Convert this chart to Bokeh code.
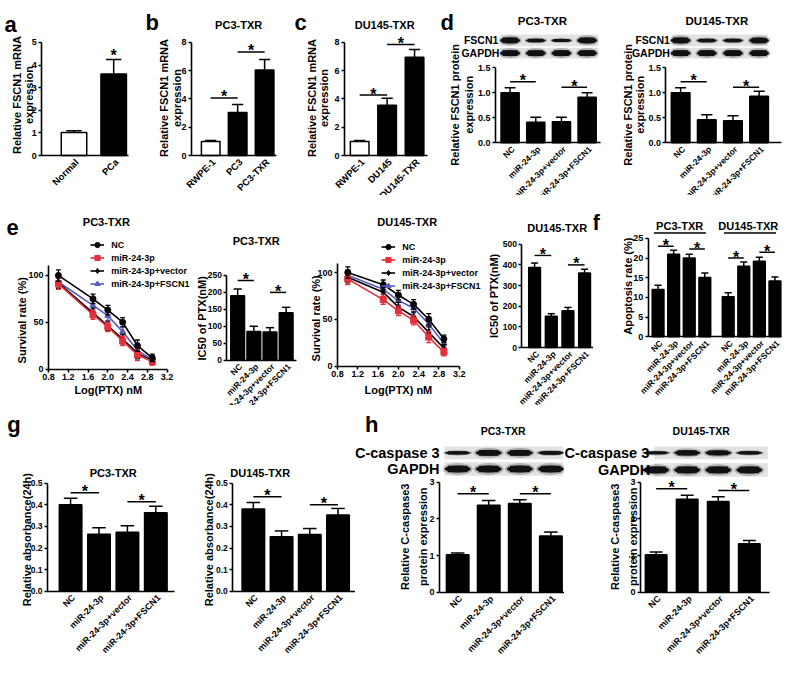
from math import pi
from bokeh.plotting import figure
from bokeh.models import (Range1d, FixedTicker, Label, Legend, LegendItem, ColumnDataSource,
                          NumeralTickFormatter)
from bokeh.layouts import row, column
from bokeh.embed import file_html
from bokeh.resources import INLINE
from bokeh.core.properties import value

# ------------------------------------------------------------------ data
a_cats = ["Normal", "PCa"]
a_vals = [1.02, 3.6]
a_err = [0.08, 0.65]

b_cats = ["RWPE-1", "PC3", "PC3-TXR"]
b_vals = [1.0, 3.05, 6.05]
b_err = [0.07, 0.55, 0.75]
b_sig = [4.07, 7.33]

c_cats = ["RWPE-1", "DU145", "DU145-TXR"]
c_vals = [1.0, 3.55, 6.95]
c_err = [0.07, 0.5, 0.55]
c_sig = [4.28, 7.85]

groups = ["NC", "miR-24-3p", "miR-24-3p+vector", "miR-24-3p+FSCN1"]

d_pc3_vals = [1.0, 0.41, 0.42, 0.91]
d_pc3_err = [0.1, 0.1, 0.09, 0.09]
d_pc3_sig = [1.22, 1.11]
d_du_vals = [1.0, 0.46, 0.44, 0.93]
d_du_err = [0.1, 0.1, 0.1, 0.1]
d_du_sig = [1.22, 1.11]
blot_fscn1_pc3 = [1.0, 0.6, 0.55, 1.0]
blot_gapdh_pc3 = [1.0, 1.0, 1.0, 1.0]
blot_fscn1_du = [1.0, 0.6, 0.6, 0.95]
blot_gapdh_du = [1.0, 1.0, 1.0, 1.0]

log_ptx = [1.0, 1.7, 2.0, 2.3, 2.6, 2.9]
x_ticks_log = [0.8, 1.2, 1.6, 2.0, 2.4, 2.8, 3.2]
surv_pc3_nc = [100, 75, 63, 50, 25, 12]
surv_pc3_mir = [91, 58, 45, 30, 15, 8]
surv_pc3_vec = [92, 60, 46, 32, 17, 9]
surv_pc3_fscn1 = [93, 68, 57, 40, 20, 10]
surv_du_nc = [100, 87, 76, 66, 50, 29]
surv_du_mir = [93, 71, 59, 49, 31, 15]
surv_du_vec = [95, 79, 63, 53, 36, 19]
surv_du_fscn1 = [97, 82, 70, 62, 45, 24]
surv_err = [6, 5, 5, 5, 6, 4]

ic50_pc3 = [190, 85, 83, 140]
ic50_pc3_err = [20, 15, 13, 16]
ic50_pc3_sig = [235, 200]
ic50_du = [387, 152, 178, 361]
ic50_du_err = [22, 12, 16, 18]
ic50_du_sig = [446, 400]

apop_pc3 = [12.0, 21.0, 20.0, 15.1]
apop_pc3_err = [1.1, 1.0, 1.0, 1.1]
apop_du = [10.2, 17.9, 19.2, 14.2]
apop_du_err = [1.0, 1.1, 1.0, 1.0]
apop_sig = [23.0, 22.3, 20.0, 21.5]

abs_pc3 = [0.40, 0.264, 0.273, 0.363]
abs_pc3_err = [0.03, 0.03, 0.03, 0.03]
abs_pc3_sig = [0.455, 0.414]
abs_du = [0.38, 0.252, 0.263, 0.353]
abs_du_err = [0.03, 0.027, 0.027, 0.03]
abs_du_sig = [0.437, 0.40]

casp_pc3 = [1.02, 2.37, 2.42, 1.53]
casp_pc3_err = [0.05, 0.13, 0.1, 0.11]
casp_pc3_sig = [2.68, 2.68]
casp_du = [1.02, 2.53, 2.47, 1.32]
casp_du_err = [0.08, 0.11, 0.13, 0.09]
casp_du_sig = [2.82, 2.77]
blot_casp_pc3 = [0.55, 1.0, 1.0, 0.6]
blot_casp_du = [0.5, 0.9, 0.85, 0.55]
blot_gapdh_h = [1.0, 1.0, 1.0, 1.0]

# ------------------------------------------------------------------ helpers
FONT = "Liberation Sans"
KX = 784 / 800
KY = 661 / 678
RED = "#e3303c"
BLUE = "#5a5abf"


def SX(v):
    return int(round(KX * v))


def SY(v):
    return int(round(KY * v))


def xr_from(L, R, c0, s):
    return ((L - c0) / s, (R - c0) / s)


def yr_from(B, T, tick_px, tick_val):
    ppu = (B - tick_px) / tick_val
    return (0, (B - T) / ppu)


class Pan:
    """A figure whose frame fills its whole canvas; axes sit at fixed locations."""

    def __init__(self, box, frame, xr, yr, ytop):
        fx0, fx1, fy0, fy1 = box
        L, R, T, B = frame
        self.L, self.R, self.T, self.B = L, R, T, B
        self.xr, self.yr = xr, yr
        X0, X1, Y0, Y1 = SX(fx0), SX(fx1), SY(fy0), SY(fy1)
        self.X0, self.Y1 = X0, Y1
        full_x = (self.xd(X0 / KX), self.xd(X1 / KX))
        full_y = (self.yd(Y1 / KY), self.yd(Y0 / KY))
        p = figure(width=X1 - X0, height=Y1 - Y0,
                   x_range=Range1d(*full_x), y_range=Range1d(*full_y),
                   min_border_left=0, min_border_right=0,
                   min_border_top=0, min_border_bottom=0,
                   output_backend="svg", toolbar_location=None)
        p.outline_line_color = None
        p.xgrid.visible = False
        p.ygrid.visible = False
        p.background_fill_color = "white"
        p.border_fill_color = "white"
        xa, ya = p.xaxis[0], p.yaxis[0]
        xa.fixed_location = yr[0]
        ya.fixed_location = xr[0]
        xa.bounds = (xr[0], xr[1])
        ya.bounds = (yr[0], ytop)
        self.p = p

    def xd(self, x):
        return self.xr[0] + (x - self.L) / (self.R - self.L) * (self.xr[1] - self.xr[0])

    def yd(self, y):
        return self.yr[0] + (self.B - y) / (self.B - self.T) * (self.yr[1] - self.yr[0])

    def text(self, x, y, s, size=11, align="center", baseline="middle", angle=0, color="black"):
        self.p.add_layout(Label(x=self.xd(x), y=self.yd(y), text=s,
                                text_font=FONT, text_font_size=f"{size}px",
                                text_font_style="bold", text_align=align,
                                text_baseline=baseline, angle=angle, text_color=color))

    def letter(self, x, y, s):
        self.text(x, y, s, 22, align="left", baseline="alphabetic")

    def ylab(self, xs, y, lines, size=11):
        for x, s in zip(xs, lines):
            self.text(x, y, s, size, angle=pi / 2)

    def axes(self, yticks, xticks=None, fs="9px", yfmt=None, xfmt=None):
        p = self.p
        for ax in (p.xaxis[0], p.yaxis[0]):
            ax.axis_line_width = 1.6
            ax.axis_line_color = "black"
            ax.major_tick_line_width = 1.6
            ax.major_tick_line_color = "black"
            ax.major_tick_in = 0
            ax.major_tick_out = 3
            ax.minor_tick_in = 0
            ax.minor_tick_out = 0
            ax.major_label_text_font = FONT
            ax.major_label_text_font_size = fs
            ax.major_label_text_font_style = "bold"
            ax.major_label_text_color = "black"
            ax.major_label_standoff = 2
        p.yaxis[0].ticker = FixedTicker(ticks=yticks)
        p.xaxis[0].ticker = FixedTicker(ticks=xticks if xticks is not None else [])
        if yfmt:
            p.yaxis[0].formatter = NumeralTickFormatter(format=yfmt)
        if xfmt:
            p.xaxis[0].formatter = NumeralTickFormatter(format=xfmt)

    def star(self, x, y, size=16, y_offset=1):
        self.p.add_layout(Label(x=x, y=y, text="*", text_font=FONT, text_color="black",
                                text_font_size=f"{size}px", text_font_style="bold",
                                text_align="center", text_baseline="alphabetic",
                                y_offset=y_offset))

    def bars(self, vals, errs, cats, bw, xs=None, fills=None, cap=0.3,
             pairs=(), sig=(), cat_fs=9, star_fs=16):
        p = self.p
        n = len(vals)
        xs = list(range(n)) if xs is None else xs
        fills = fills or ["black"] * n
        src = ColumnDataSource(dict(x=xs, top=vals, fill=fills))
        p.vbar(x="x", top="top", width=bw, bottom=0, fill_color="fill",
               line_color="black", line_width=1.5, source=src)
        tops = [v + e for v, e in zip(vals, errs)]
        p.segment(x0=xs, y0=vals, x1=xs, y1=tops, line_color="black", line_width=1.5)
        p.segment(x0=[x - cap * bw for x in xs], y0=tops, x1=[x + cap * bw for x in xs],
                  y1=tops, line_color="black", line_width=1.5)
        for (i, j), h in zip(pairs, sig):
            p.segment(x0=[xs[i]], y0=[h], x1=[xs[j]], y1=[h], line_color="black", line_width=1.5)
            self.star((xs[i] + xs[j]) / 2, h, star_fs)
        ylab = self.yd(self.B + 5)
        for x, c in zip(xs, cats):
            p.add_layout(Label(x=x, y=ylab, x_offset=3, text_color="black",
                               text=c, angle=pi / 4, text_align="right", text_baseline="middle",
                               text_font=FONT, text_font_size=f"{cat_fs}px",
                               text_font_style="bold"))
        return xs

    def blot(self, x_lo, x_hi, yc, h, xs, intens, band_w, band_h):
        p = self.p
        x0, x1 = self.xd(x_lo), self.xd(x_hi)
        y = self.yd(yc)
        p.rect(x=[(x0 + x1) / 2], y=[y], width=[x1 - x0], height=[h * KY],
               height_units="screen", fill_color="#e2e2e2", line_color=None)
        n = len(xs)
        ys = [y] * n
        p.ellipse(x=xs, y=ys, width=[band_w * 1.15] * n,
                  height=[band_h * k * 1.7 for k in intens],
                  width_units="screen", height_units="screen",
                  fill_color="#222222", fill_alpha=0.25, line_color=None)
        p.ellipse(x=xs, y=ys, width=[band_w] * n, height=[band_h * k for k in intens],
                  width_units="screen", height_units="screen",
                  fill_color="#111111", line_color=None)
        p.rect(x=xs, y=ys, width=[band_w * 0.75] * n, height=[band_h * k * 0.95 for k in intens],
               width_units="screen", height_units="screen",
               fill_color="#111111", line_color=None)

    def survival(self, series, errs, leg_xy):
        p = self.p
        items = {}
        for name, vals, color, marker, msize in series:
            l = p.line(log_ptx, vals, line_color=color, line_width=1.6)
            lo = [v - e for v, e in zip(vals, errs)]
            hi = [v + e for v, e in zip(vals, errs)]
            p.segment(x0=log_ptx, y0=lo, x1=log_ptx, y1=hi, line_color=color, line_width=1.3)
            for yy in (lo, hi):
                p.segment(x0=[x - 0.05 for x in log_ptx], y0=yy,
                          x1=[x + 0.05 for x in log_ptx], y1=yy,
                          line_color=color, line_width=1.3)
            s = p.scatter(log_ptx, vals, marker=marker, size=msize, fill_color=color,
                          line_color=color)
            items[name] = LegendItem(label=value(name), renderers=[l, s])
        row_h = 13
        leg = Legend(items=[items[k] for k in groups],
                     location=(KX * leg_xy[0] - self.X0,
                               self.Y1 - KY * leg_xy[1] - row_h * len(groups)))
        leg.background_fill_alpha = 0
        leg.border_line_alpha = 0
        leg.padding = 0
        leg.margin = 0
        leg.spacing = 0
        leg.glyph_width = 14
        leg.glyph_height = row_h
        leg.label_height = row_h
        leg.label_standoff = 7
        leg.label_text_font = FONT
        leg.label_text_font_size = "9px"
        leg.label_text_font_style = "bold"
        leg.label_text_color = "black"
        p.add_layout(leg)


pairs4 = [(0, 1), (2, 3)]

# ------------------------------------------------------------------ row 1
A = Pan((0, 142, 0, 200), (42, 131, 43, 159), xr_from(42, 131, 75, 40.5), (0, 5), 5)
A.axes([0, 1, 2, 3, 4, 5])
A.bars(a_vals, a_err, a_cats, 26 / 40.5, fills=["white", "black"], cat_fs=9.5)
A.star(1, a_vals[1] + a_err[1], 16, 4)
A.letter(4, 25, "a")
A.ylab([17, 29], 97, ["Relative FSCN1 mRNA", "expression"])

B = Pan((142, 292, 0, 200), (195, 282, 43, 159), xr_from(195, 282, 214.5, 27.5), (0, 8), 8)
B.axes([0, 2, 4, 6, 8])
B.bars(b_vals, b_err, b_cats, 19 / 27.5, fills=["white", "black", "black"],
       pairs=[(0, 1), (1, 2)], sig=b_sig, cat_fs=9.5)
B.letter(148, 23, "b")
B.text(243, 25, "PC3-TXR", 11)
B.ylab([167, 180], 100, ["Relative FSCN1 mRNA", "expression"])

C = Pan((292, 445, 0, 200), (351, 436, 43, 159), xr_from(351, 436, 366.5, 28), (0, 8), 8)
C.axes([0, 2, 4, 6, 8])
C.bars(c_vals, c_err, c_cats, 19 / 28, fills=["white", "black", "black"],
       pairs=[(0, 1), (1, 2)], sig=c_sig, cat_fs=9.5)
C.letter(300, 23, "c")
C.text(392, 25, "DU145-TXR", 11)
C.ylab([318, 330], 100, ["Relative FSCN1 mRNA", "expression"])

D1 = Pan((445, 630, 0, 200), (505, 612, 33, 146), xr_from(505, 612, 520, 26.2),
         yr_from(146, 33, 69, 1.5), 1.5)
D1.axes([0, 0.5, 1, 1.5], yfmt="0.0")
xs = D1.bars(d_pc3_vals, d_pc3_err, groups, 18.5 / 26.2, pairs=pairs4, sig=d_pc3_sig, cat_fs=8.5)
D1.blot(510, 610, 41, 12, xs, blot_fscn1_pc3, 20, 6)
D1.blot(510, 610, 54, 11, xs, blot_gapdh_pc3, 20, 6)
D1.text(508, 41, "FSCN1", 10.5, align="right")
D1.text(509, 54, "GAPDH", 10.5, align="right")
D1.letter(449, 23, "d")
D1.text(553, 21, "PC3-TXR", 11.5)
D1.ylab([464, 478], 107, ["Relative FSCN1 protein", "expression"])

D2 = Pan((630, 800, 0, 200), (679, 797, 33, 146), xr_from(679, 797, 694, 26.7),
         yr_from(146, 33, 69, 1.5), 1.5)
D2.axes([0, 0.5, 1, 1.5], yfmt="0.0")
xs = D2.bars(d_du_vals, d_du_err, groups, 19 / 26.7, pairs=pairs4, sig=d_du_sig, cat_fs=8.5)
D2.blot(685, 783, 41, 12, xs, blot_fscn1_du, 20, 6)
D2.blot(685, 783, 54, 11, xs, blot_gapdh_du, 20, 6)
D2.text(683, 41, "FSCN1", 10.5, align="right")
D2.text(683, 54, "GAPDH", 10.5, align="right")
D2.text(731, 21, "DU145-TXR", 11.5)
D2.ylab([640, 653], 107, ["Relative FSCN1 protein", "expression"])

# ------------------------------------------------------------------ row 2
e1_yr = yr_from(378, 272, 282, 100)
E1 = Pan((0, 200, 200, 415), (49, 170, 272, 378), (0.8, 3.2), e1_yr, e1_yr[1])
E1.axes([0, 50, 100], xticks=x_ticks_log, xfmt="0.0")
E1.survival([
    ("miR-24-3p+FSCN1", surv_pc3_fscn1, BLUE, "triangle", 6),
    ("miR-24-3p+vector", surv_pc3_vec, "black", "diamond", 6),
    ("miR-24-3p", surv_pc3_mir, RED, "square", 6),
    ("NC", surv_pc3_nc, "black", "circle", 6),
], surv_err, (92, 244.5))
E1.letter(6, 233, "e")
E1.text(108, 227, "PC3-TXR", 11)
E1.text(22, 328, "Survival rate (%)", 11, angle=pi / 2)
E1.text(110, 400, "Log(PTX) nM", 11)

E2 = Pan((200, 305, 200, 415), (231, 302, 282, 369), xr_from(231, 302, 242, 16.5), (0, 250), 250)
E2.axes([0, 50, 100, 150, 200, 250], fs="8.5px")
E2.bars(ic50_pc3, ic50_pc3_err, groups, 14 / 16.5, pairs=pairs4, sig=ic50_pc3_sig, cat_fs=8.5)
E2.text(261, 247, "PC3-TXR", 11)
E2.text(206, 326, "IC50 of PTX(nM)", 11, angle=pi / 2)

e3_yr = yr_from(375, 270, 279, 100)
E3 = Pan((305, 496, 200, 415), (344, 468, 270, 375), (0.8, 3.2), e3_yr, e3_yr[1])
E3.axes([0, 50, 100], xticks=x_ticks_log, xfmt="0.0")
E3.survival([
    ("miR-24-3p+FSCN1", surv_du_fscn1, BLUE, "triangle", 6),
    ("miR-24-3p+vector", surv_du_vec, "black", "diamond", 6),
    ("miR-24-3p", surv_du_mir, RED, "square", 6),
    ("NC", surv_du_nc, "black", "circle", 6),
], surv_err, (389, 246.5))
E3.text(415, 227, "DU145-TXR", 11)
E3.text(322, 326, "Survival rate (%)", 11, angle=pi / 2)
E3.text(406, 400, "Log(PTX) nM", 11)

E4 = Pan((496, 605, 200, 415), (532, 605, 250, 356), xr_from(532, 605, 545, 17), (0, 500), 500)
E4.axes([0, 100, 200, 300, 400, 500], fs="8.5px")
E4.bars(ic50_du, ic50_du_err, groups, 12 / 17, pairs=pairs4, sig=ic50_du_sig, cat_fs=8.5)
E4.text(568, 233, "DU145-TXR", 11)
E4.text(504, 303, "IC50 of PTX(nM)", 11, angle=pi / 2)

F = Pan((605, 800, 200, 415), (661, 797, 236, 345), xr_from(661, 797, 671, 15.9),
        yr_from(345, 236, 244, 25), 25)
F.axes([0, 5, 10, 15, 20, 25])
f_xs = [0, 1, 2, 3, 4.5, 5.5, 6.5, 7.5]
F.bars(apop_pc3 + apop_du, apop_pc3_err + apop_du_err, groups + groups, 12 / 15.9, xs=f_xs,
       pairs=[(0, 1), (2, 3), (4, 5), (6, 7)], sig=apop_sig, cat_fs=8.5)
uy = F.yd(238.5)
for lo, hi in ((f_xs[0], f_xs[3]), (f_xs[4], f_xs[7])):
    F.p.segment(x0=[lo - 0.27], y0=[uy], x1=[hi + 0.07], y1=[uy], line_color="black", line_width=1.5)
F.text(693, 231, "PC3-TXR", 11)
F.text(763, 231, "DU145-TXR", 11)
F.letter(604, 228, "f")
F.text(640, 293, "Apoptosis rate (%)", 11, angle=pi / 2)

# ------------------------------------------------------------------ row 3
G1 = Pan((0, 200, 415, 678), (48, 178, 495, 606), xr_from(48, 178, 71.5, 29), (0, 0.5), 0.5)
G1.axes([0, 0.1, 0.2, 0.3, 0.4, 0.5], yfmt="0.0", fs="8.5px")
G1.bars(abs_pc3, abs_pc3_err, groups, 23 / 29, pairs=pairs4, sig=abs_pc3_sig)
G1.letter(7, 435, "g")
G1.text(115, 485, "PC3-TXR", 11)
G1.text(27, 553, "Relative absorbance(24h)", 11, angle=pi / 2)

G2 = Pan((200, 362, 415, 678), (237, 362, 495, 606), xr_from(237, 362, 258, 28.8), (0, 0.5), 0.5)
G2.axes([0, 0.1, 0.2, 0.3, 0.4, 0.5], yfmt="0.0", fs="8.5px")
G2.bars(abs_du, abs_du_err, groups, 23 / 28.8, pairs=pairs4, sig=abs_du_sig)
G2.text(265, 485, "DU145-TXR", 11)
G2.text(213, 553, "Relative absorbance(24h)", 11, angle=pi / 2)

H1 = Pan((362, 575, 415, 678), (448, 575, 455, 607), xr_from(448, 575, 466.5, 31.7),
         yr_from(607, 455, 494, 3), 3)
H1.axes([0, 1, 2, 3])
xs = H1.bars(casp_pc3, casp_pc3_err, groups, 23 / 31.7, pairs=pairs4, sig=casp_pc3_sig)
H1.blot(453, 574, 464, 13, xs, blot_casp_pc3, 26, 6)
H1.blot(453, 574, 480.5, 14, xs, blot_gapdh_h, 26, 7)
H1.text(448, 464, "C-caspase 3", 14.5, align="right")
H1.text(448, 481, "GAPDH", 14.5, align="right")
H1.letter(372, 435, "h")
H1.text(513, 442, "PC3-TXR", 10.5)
H1.ylab([413, 431], 550, ["Relative C-caspase3", "protein expression"])

H2 = Pan((575, 800, 415, 678), (653, 785, 455, 607), xr_from(653, 785, 669, 31.7),
         yr_from(607, 455, 494, 3), 3)
H2.axes([0, 1, 2, 3])
xs = H2.bars(casp_du, casp_du_err, groups, 22 / 31.7, pairs=pairs4, sig=casp_du_sig)
H2.blot(667, 783, 464, 13, xs, blot_casp_du, 26, 6)
H2.blot(667, 783, 481.5, 14, xs, blot_gapdh_h, 26, 7)
H2.text(662, 464, "C-caspase 3", 14.5, align="right")
H2.text(663, 482, "GAPDH", 14.5, align="right")
H2.text(715, 442, "DU145-TXR", 10.5)
H2.ylab([627, 645], 550, ["Relative C-caspase3", "protein expression"])

layout = column(
    row(A.p, B.p, C.p, D1.p, D2.p),
    row(E1.p, E2.p, E3.p, E4.p, F.p),
    row(G1.p, G2.p, H1.p, H2.p),
)

open("out.html", "w").write(file_html(layout, INLINE))
